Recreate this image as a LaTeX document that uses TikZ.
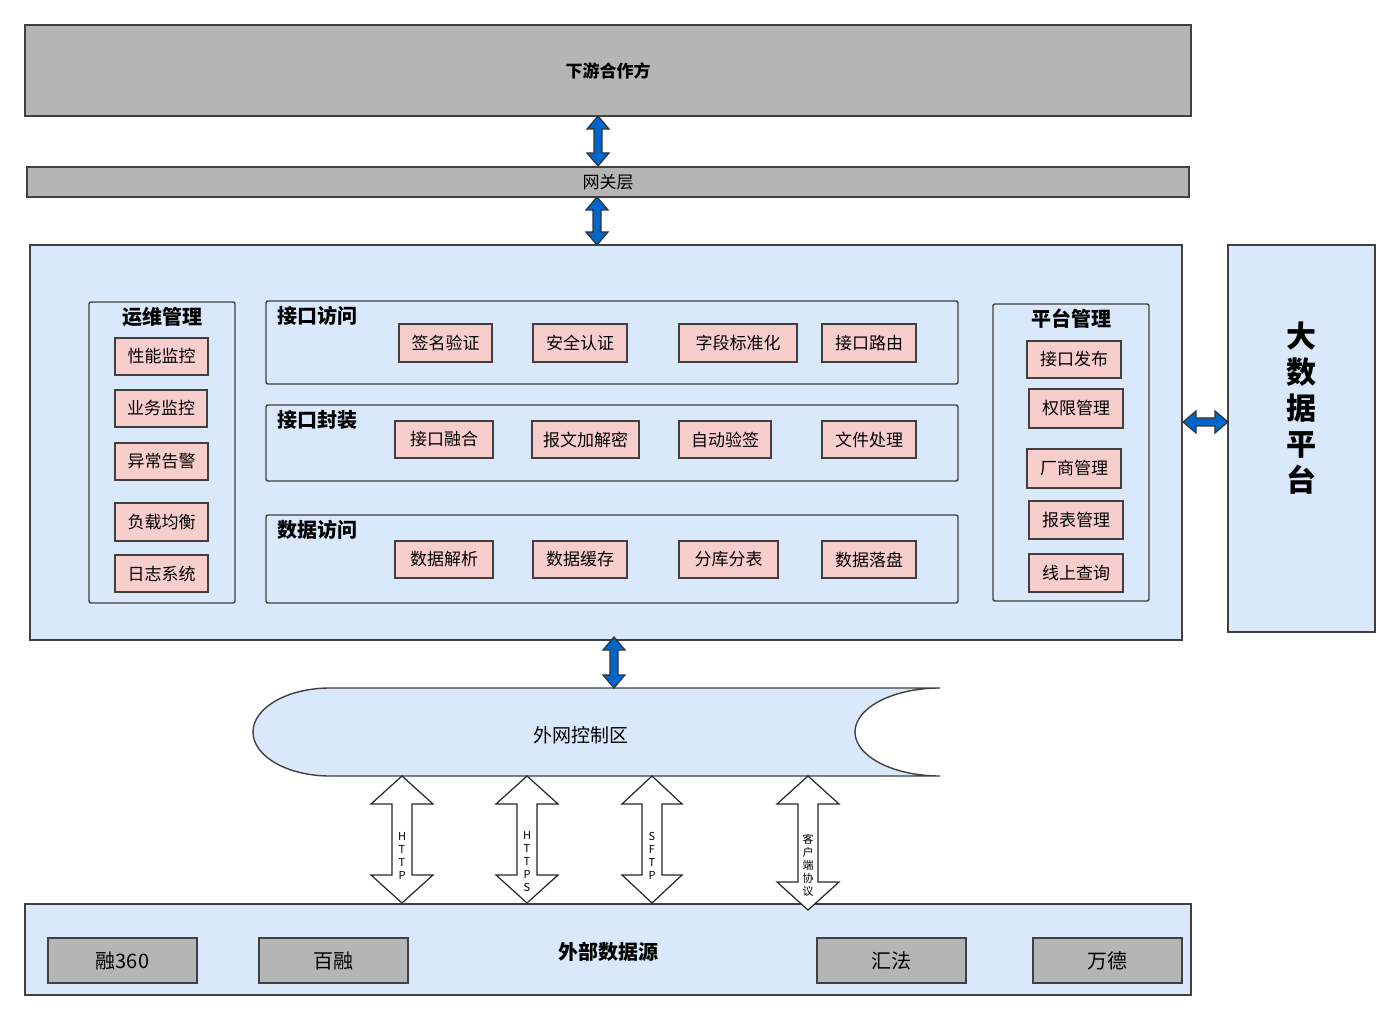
\documentclass[tikz,border=0pt]{standalone}
\usepackage{fontspec}
\setmainfont{Noto Sans CJK SC}
\begin{document}
\begin{tikzpicture}[x=0.5pt,y=-0.5pt,
  base/.style={draw=black!75,line width=0.7pt,inner sep=0pt,font=\fontsize{8.5}{10}\selectfont},
  gray/.style={base,fill=black!29},
  big/.style={font=\fontsize{10}{12}\selectfont},
  panel/.style={base,fill={rgb,255:red,218;green,232;blue,252}},
  grp/.style={base,fill={rgb,255:red,218;green,232;blue,252},rounded corners=1pt},
  item/.style={base,fill={rgb,255:red,248;green,206;blue,204}},
  ttl/.style={font=\bfseries\fontsize{10}{12}\selectfont,inner sep=0pt},
  barrow/.style={draw=black!80,line width=0.6pt,fill={rgb,255:red,0;green,102;blue,204}},
  warrow/.style={draw=black!85,line width=0.6pt,fill=white},
  vlab/.style={font=\fontsize{5.5}{6.5}\selectfont,align=center,inner sep=0pt}]
\useasboundingbox (0,0) rectangle (1400,1020);
\newcommand\bx[7]{\node[#6,minimum width={(#4-#2)*0.5pt},minimum height={(#5-#3)*0.5pt}] (#1) at ({(#2+#4)/2},{(#3+#5)/2}) {#7};}
% vertical double arrow: x, y1, y2, shaft half, head half, head len, style
\newcommand\varr[7]{\draw[#7] (#1,#2) -- (#1+#5,#2+#6) -- (#1+#4,#2+#6) -- (#1+#4,#3-#6) -- (#1+#5,#3-#6) -- (#1,#3) -- (#1-#5,#3-#6) -- (#1-#4,#3-#6) -- (#1-#4,#2+#6) -- (#1-#5,#2+#6) -- cycle;}
\bx{top}{25}{25}{1191}{116}{gray}{\textbf{下游合作方}}
\bx{gw}{27}{167}{1189}{197}{gray}{网关层}
\bx{main}{30}{245}{1182}{640}{panel}{}
\bx{bd}{1228}{245}{1375}{632}{panel}{}
\node[font=\bfseries\fontsize{15}{18}\selectfont,align=center] (bdt) at (1301,408) {大\\数\\据\\平\\台};
% groups
\bx{g1}{89}{302}{235}{603}{grp}{}
\node[ttl] (g1t) at (162,317) {运维管理};
\bx{a1}{115}{338}{208}{375}{item}{性能监控}
\bx{a2}{115}{390}{207}{427}{item}{业务监控}
\bx{a3}{115}{443}{208}{480}{item}{异常告警}
\bx{a4}{115}{503}{208}{541}{item}{负载均衡}
\bx{a5}{115}{555}{208}{592}{item}{日志系统}
\bx{g2}{266}{301}{958}{384}{grp}{}
\node[ttl,anchor=west] (g2t) at (277,316) {接口访问};
\bx{b1}{399}{324}{492}{362}{item}{签名验证}
\bx{b2}{533}{324}{627}{362}{item}{安全认证}
\bx{b3}{679}{324}{797}{362}{item}{字段标准化}
\bx{b4}{822}{324}{916}{362}{item}{接口路由}
\bx{g3}{266}{405}{958}{481}{grp}{}
\node[ttl,anchor=west] (g3t) at (277,420) {接口封装};
\bx{c1}{395}{421}{493}{458}{item}{接口融合}
\bx{c2}{532}{421}{639}{458}{item}{报文加解密}
\bx{c3}{679}{421}{771}{458}{item}{自动验签}
\bx{c4}{822}{421}{916}{458}{item}{文件处理}
\bx{g4}{266}{515}{958}{603}{grp}{}
\node[ttl,anchor=west] (g4t) at (277,530) {数据访问};
\bx{d1}{395}{541}{493}{578}{item}{数据解析}
\bx{d2}{533}{541}{627}{578}{item}{数据缓存}
\bx{d3}{679}{541}{778}{578}{item}{分库分表}
\bx{d4}{822}{541}{916}{578}{item}{数据落盘}
\bx{g5}{993}{304}{1149}{601}{grp}{}
\node[ttl] (g5t) at (1071,319) {平台管理};
\bx{e1}{1027}{341}{1121}{378}{item}{接口发布}
\bx{e2}{1029}{389}{1123}{428}{item}{权限管理}
\bx{e3}{1027}{449}{1121}{488}{item}{厂商管理}
\bx{e4}{1029}{501}{1123}{539}{item}{报表管理}
\bx{e5}{1029}{554}{1123}{592}{item}{线上查询}
% bottom
\bx{ext}{25}{904}{1191}{995}{panel}{}
\node[ttl] (extt) at (608,952) {外部数据源};
\bx{f1}{48}{938}{197}{983}{gray,big}{融360}
\bx{f2}{259}{938}{408}{983}{gray,big}{百融}
\bx{f3}{817}{938}{966}{983}{gray,big}{汇法}
\bx{f4}{1033}{938}{1182}{983}{gray,big}{万德}
% control zone
\draw[base,fill={rgb,255:red,218;green,232;blue,252}] (330,688) -- (940,688) arc[start angle=90,end angle=270,x radius=85,y radius=-44] -- (330,776) arc[start angle=270,end angle=90,x radius=77,y radius=-44] -- cycle;
\node[font=\fontsize{9.5}{11}\selectfont] (ctl) at (581,735) {外网控制区};
% blue arrows
\varr{598}{116}{166}{4}{11}{13}{barrow}
\varr{597}{197}{245}{4}{11}{13}{barrow}
\varr{614}{637}{688}{4}{11}{13}{barrow}
\draw[barrow] (1183,422) -- (1196,411) -- (1196,418) -- (1215,418) -- (1215,411) -- (1228,422) -- (1215,433) -- (1215,426) -- (1196,426) -- (1196,433) -- cycle;
% white arrows
\varr{402}{776}{903}{10}{31}{28}{warrow}
\varr{527}{776}{903}{10}{31}{28}{warrow}
\varr{652}{776}{903}{10}{30}{28}{warrow}
\varr{808}{776}{910}{10}{31}{28}{warrow}
\node[vlab] (l1) at (402,856) {H\\T\\T\\P};
\node[vlab] (l2) at (527,862) {H\\T\\T\\P\\S};
\node[vlab] (l3) at (652,856) {S\\F\\T\\P};
\node[vlab] (l4) at (808,865) {客\\户\\端\\协\\议};
\end{tikzpicture}
\end{document}
